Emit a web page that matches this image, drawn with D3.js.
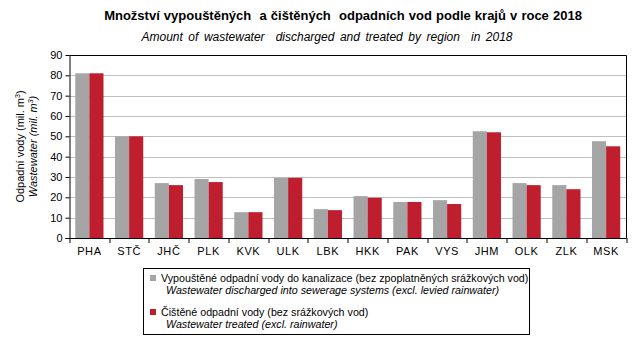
<!DOCTYPE html>
<html>
<head>
<meta charset="utf-8">
<script src="https://cdn.jsdelivr.net/npm/d3@7/dist/d3.min.js"></script>
<style>
  html, body { margin: 0; padding: 0; background: #fff; }
  svg { display: block; font-family: "Liberation Sans", Arial, sans-serif; }
  .title { white-space: pre; }
</style>
</head>
<body>
<svg id="chart" width="643" height="342"></svg>
<script>
// Regions (kraje) of the Czech Republic
const regions = ["PHA", "STČ", "JHČ", "PLK", "KVK", "ULK", "LBK", "HKK", "PAK", "VYS", "JHM", "OLK", "ZLK", "MSK"];
// Wastewater discharged into sewerage systems, mil. m3
const discharged = [81.0, 50.0, 27.0, 29.0, 12.7, 29.6, 14.2, 20.6, 17.7, 18.6, 52.5, 27.0, 26.0, 47.6];
// Wastewater treated, mil. m3
const treated = [81.0, 50.0, 26.0, 27.5, 12.7, 29.6, 13.7, 19.8, 17.7, 16.7, 52.0, 26.0, 24.0, 45.1];
const yTicks = [0, 10, 20, 30, 40, 50, 60, 70, 80, 90];

const colors = { discharged: "#a5a5a5", treated: "#be1e2d" };

const svg = d3.select("#chart");
const margin = { left: 69.5, right: 17, top: 55, bottom: 104 };
const W = 643, H = 342;
const plotW = W - margin.left - margin.right;
const plotH = H - margin.top - margin.bottom;

const x = d3.scaleBand().domain(regions).range([0, plotW]).paddingInner(0.29).paddingOuter(0.145);
const xSub = d3.scaleBand().domain(["discharged", "treated"]).range([0, x.bandwidth()]);
const y = d3.scaleLinear().domain([0, 90]).range([plotH, 0]);

const g = svg.append("g").attr("transform", `translate(${margin.left},${margin.top})`);

// Horizontal gridlines
g.append("g").selectAll("line").data(yTicks.filter(t => t > 0 && t < 90)).join("line")
  .attr("x1", 0).attr("x2", plotW)
  .attr("y1", d => Math.round(y(d)) + 0.5).attr("y2", d => Math.round(y(d)) + 0.5)
  .attr("stroke", "#c0c0c0").attr("stroke-width", 1);

// Bars
const groups = g.append("g").selectAll("g").data(regions).join("g")
  .attr("transform", d => `translate(${x(d)},0)`);
groups.append("rect")
  .attr("x", xSub("discharged")).attr("width", xSub.bandwidth())
  .attr("y", (d, i) => y(discharged[i])).attr("height", (d, i) => plotH - y(discharged[i]))
  .attr("fill", colors.discharged);
groups.append("rect")
  .attr("x", xSub("treated")).attr("width", xSub.bandwidth())
  .attr("y", (d, i) => y(treated[i])).attr("height", (d, i) => plotH - y(treated[i]))
  .attr("fill", colors.treated);

// Plot frame: top and right edges
g.append("path")
  .attr("d", `M0,0.5H${plotW + 0.5}V${plotH}`)
  .attr("fill", "none").attr("stroke", "#000").attr("stroke-width", 1);

// Y axis
const yAxis = g.append("g").call(d3.axisLeft(y).tickValues(yTicks).tickSize(4).tickPadding(3).tickSizeOuter(0));
yAxis.select(".domain").attr("stroke", "#000");
yAxis.selectAll("text").attr("font-size", 11).attr("fill", "#000");

// X axis with tick marks between the categories
const xAxis = g.append("g").attr("transform", `translate(0,${plotH})`);
xAxis.append("line").attr("x1", -4).attr("x2", plotW + 0.5).attr("y1", 0.5).attr("y2", 0.5).attr("stroke", "#000");
const step = x.step();
const bounds = d3.range(regions.length + 1).map(i => x(regions[0]) - x.paddingOuter() * step + i * step);
xAxis.selectAll("line.tick").data(bounds).join("line").attr("class", "tick")
  .attr("x1", d => Math.round(d) + 0.5).attr("x2", d => Math.round(d) + 0.5)
  .attr("y1", 0).attr("y2", 5).attr("stroke", "#000");
xAxis.selectAll("text").data(regions).join("text")
  .attr("x", d => x(d) + x.bandwidth() / 2).attr("y", 17)
  .attr("text-anchor", "middle").attr("font-size", 11).attr("letter-spacing", 0.6)
  .text(d => d);

// Titles
svg.append("text").attr("class", "title").attr("x", 343).attr("y", 20).attr("text-anchor", "middle")
  .attr("font-size", 13).attr("font-weight", "bold").attr("word-spacing", 0.5)
  .text("Množství vypouštěných  a čištěných  odpadních vod podle krajů v roce 2018");
svg.append("text").attr("class", "title").attr("x", 327).attr("y", 41).attr("text-anchor", "middle")
  .attr("font-size", 12).attr("font-style", "italic").attr("word-spacing", 2.2)
  .text("Amount of wastewater  discharged and treated by region  in 2018");

// Y axis title (two lines)
const yt = svg.append("text").attr("transform", `translate(24,${margin.top + plotH / 2}) rotate(-90)`)
  .attr("text-anchor", "middle").attr("font-size", 11);
yt.append("tspan").attr("x", 0).attr("dy", 0).text("Odpadní vody (mil. m");
yt.append("tspan").attr("font-size", 7).attr("dy", -4).text("3");
yt.append("tspan").attr("dy", 4).text(")");
const yt2 = svg.append("text").attr("transform", `translate(37,${margin.top + plotH / 2}) rotate(-90)`)
  .attr("text-anchor", "middle").attr("font-size", 11).attr("font-style", "italic");
yt2.append("tspan").text("Wastewater (mil. m");
yt2.append("tspan").attr("font-size", 7).attr("dy", -4).text("3");
yt2.append("tspan").attr("dy", 4).text(")");

// Legend
const legend = svg.append("g");
legend.append("rect").attr("x", 143.5).attr("y", 268.5).attr("width", 386).attr("height", 66)
  .attr("fill", "#fff").attr("stroke", "#000");
const items = [
  { key: "discharged", cz: "Vypouštěné odpadní vody do kanalizace (bez zpoplatněných srážkových vod)",
    en: "Wastewater discharged into sewerage systems (excl. levied rainwater)", y: 282 },
  { key: "treated", cz: "Čištěné odpadní vody (bez srážkových vod)",
    en: "Wastewater treated (excl. rainwater)", y: 316 }
];
items.forEach(it => {
  legend.append("rect").attr("x", 150).attr("y", it.y - 7).attr("width", 6).attr("height", 6)
    .attr("fill", colors[it.key]);
  legend.append("text").attr("x", 161).attr("y", it.y).attr("font-size", 10.7).text(it.cz);
  legend.append("text").attr("x", 166).attr("y", it.y + 12).attr("font-size", 10.7)
    .attr("font-style", "italic").text(it.en);
});
</script>
</body>
</html>
